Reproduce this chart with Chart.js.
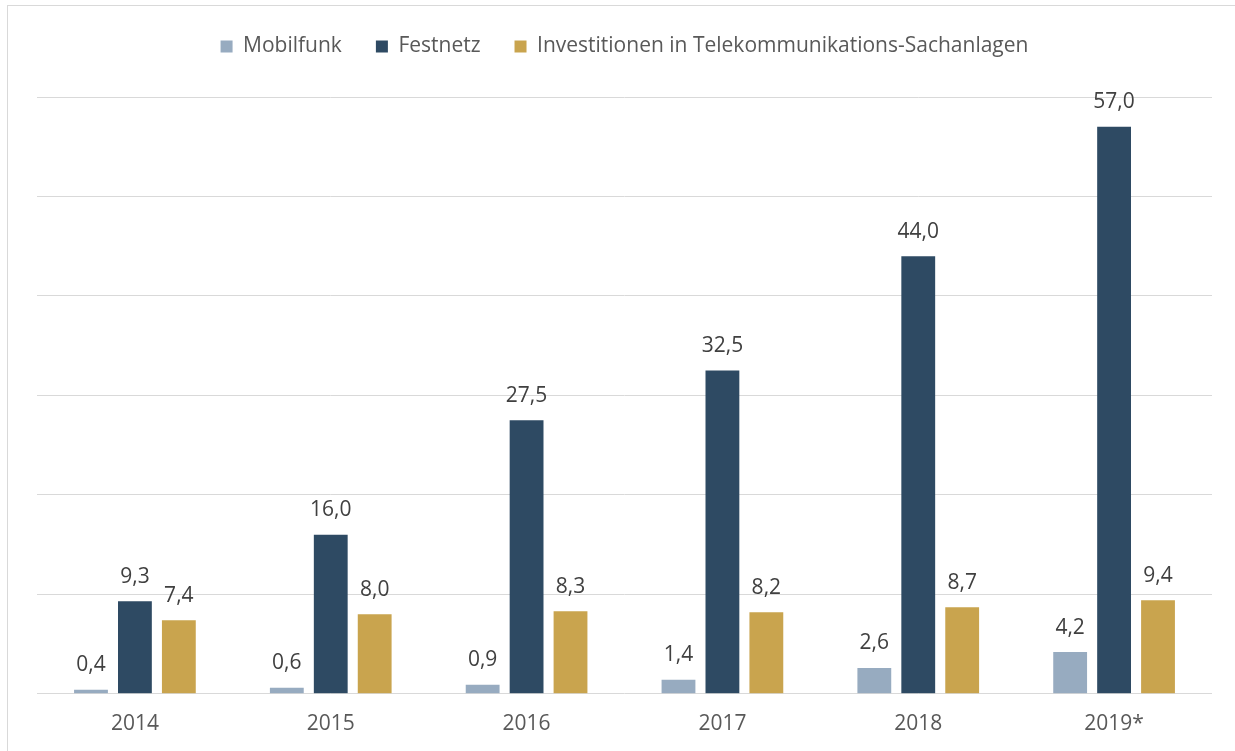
<!DOCTYPE html>
<html>
<head>
<meta charset="utf-8">
<script src="https://cdn.jsdelivr.net/npm/chart.js@4"></script>
<style>
   html, body { margin: 0; padding: 0; background: #fff; }
   #wrap { position: relative; width: 1235px; height: 751px; overflow: hidden; }
   #frame { position: absolute; left: 7px; top: 5px; width: 1240px; height: 760px; border: 1px solid #d9d9d9; box-sizing: border-box; }
   canvas { position: absolute; left: 0; top: 0; }
</style>
</head>
<body>
<div id="wrap">
   <div id="frame"></div>
   <canvas id="chart" width="1235" height="751"></canvas>
</div>
<script>
const years = ["2014", "2015", "2016", "2017", "2018", "2019*"];
const mobilfunk = [0.4, 0.6, 0.9, 1.4, 2.6, 4.2];
const festnetz = [9.3, 16.0, 27.5, 32.5, 44.0, 57.0];
const investitionen = [7.4, 8.0, 8.3, 8.2, 8.7, 9.4];
const seriesNames = ["Mobilfunk", "Festnetz", "Investitionen in Telekommunikations-Sachanlagen"];
const seriesColors = ["#97abc0", "#2e4a63", "#c9a44e"];

const FONT = "'Open Sans', 'Liberation Sans', sans-serif";

// draws the value above each bar, German decimal comma
const valueLabels = {
   id: "valueLabels",
   afterDatasetsDraw(chart) {
      const ctx = chart.ctx;
      ctx.save();
      ctx.font = "21px " + FONT;
      ctx.fillStyle = "#404040";
      ctx.textAlign = "center";
      ctx.textBaseline = "bottom";
      chart.data.datasets.forEach((ds, i) => {
         chart.getDatasetMeta(i).data.forEach((bar, j) => {
            const txt = ds.data[j].toFixed(1).replace(".", ",");
            ctx.fillText(txt, bar.x, bar.y - 14);
         });
      });
      ctx.restore();
   },
};

// extra space under the legend
const legendGap = {
   id: "legendGap",
   beforeInit(chart) {
      const fit = chart.legend.fit;
      chart.legend.fit = function () {
         fit.bind(chart.legend)();
         this.height += 30;
      };
   },
};

new Chart(document.getElementById("chart").getContext("2d"), {
   type: "bar",
   data: {
      labels: years,
      datasets: [mobilfunk, festnetz, investitionen].map((d, i) => ({
         label: seriesNames[i],
         data: d,
         backgroundColor: seriesColors[i],
         borderWidth: 0,
         categoryPercentage: 0.673,
         barPercentage: 0.77,
      })),
   },
   options: {
      responsive: false,
      animation: false,
      layout: { padding: { left: 37, right: 23, top: 2, bottom: 4 } },
      scales: {
         x: {
            grid: { display: false },
            border: { display: false },
            ticks: { color: "#595959", font: { family: FONT, size: 21 }, padding: 10 },
         },
         y: {
            min: 0,
            max: 60,
            ticks: { display: false, stepSize: 10 },
            border: { display: false },
            grid: { color: "#d9d9d9", lineWidth: 1, drawTicks: false },
         },
      },
      plugins: {
         legend: {
            position: "top",
            labels: {
               color: "#595959",
               font: { family: FONT, size: 21 },
               boxWidth: 12,
               boxHeight: 12,
               padding: 34,
            },
         },
         title: { display: false },
         tooltip: { enabled: false },
      },
   },
   plugins: [valueLabels, legendGap],
});
</script>
</body>
</html>
